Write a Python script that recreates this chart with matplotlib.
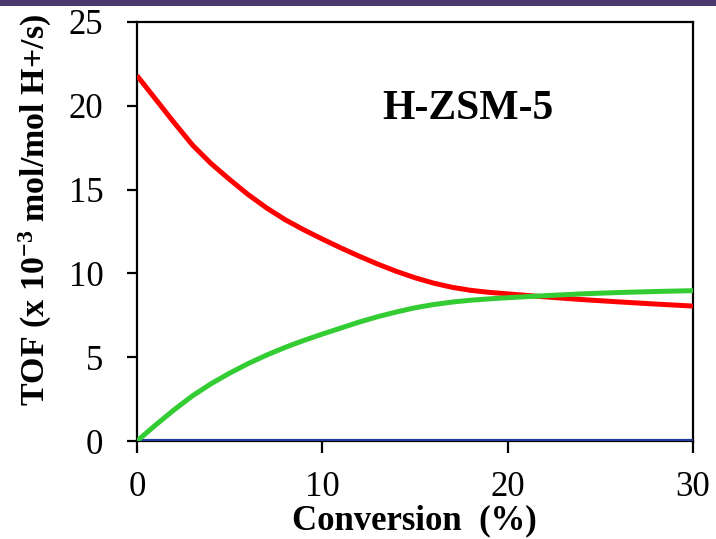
import matplotlib
matplotlib.use("Agg")
import matplotlib.pyplot as plt
from matplotlib.patches import Rectangle

plt.rcParams['font.family'] = ['Liberation Serif', 'DejaVu Serif']
plt.rcParams['mathtext.fontset'] = 'custom'
plt.rcParams['mathtext.rm'] = 'Liberation Serif:bold'
plt.rcParams['mathtext.it'] = 'Liberation Serif:bold'
plt.rcParams['mathtext.bf'] = 'Liberation Serif:bold'

# Conversion (%) and turnover frequencies (x 10^-3 mol/mol H+/s)
conversion = [0, 1, 2, 3, 4, 5, 6, 7, 8, 9, 10, 11, 12, 13, 14, 15, 16, 17, 18,
              19, 20, 22, 24, 26, 28, 30]
tof_red = [21.8, 20.4, 19.0, 17.65, 16.55, 15.6, 14.7, 13.9, 13.2, 12.6, 12.05,
           11.52, 11.02, 10.55, 10.12, 9.74, 9.42, 9.17, 8.99, 8.87, 8.78, 8.6,
           8.44, 8.3, 8.17, 8.05]
tof_green = [0.0, 0.95, 1.86, 2.7, 3.42, 4.05, 4.62, 5.13, 5.59, 6.0, 6.38,
             6.74, 7.1, 7.42, 7.7, 7.95, 8.14, 8.29, 8.4, 8.48, 8.55, 8.67,
             8.78, 8.86, 8.92, 8.97]
tof_blue = [0.0] * len(conversion)

x_ticks = [0, 10, 20, 30]
y_ticks = [0, 5, 10, 15, 20, 25]

fig = plt.figure(figsize=(7.16, 5.39), dpi=100)
fig.patches.append(Rectangle((0, 1 - 6 / 539), 1, 6 / 539, transform=fig.transFigure,
                             facecolor='#4a3a70', edgecolor='none', zorder=0))

ax = fig.add_axes([137 / 716, 1 - 441 / 539, 556 / 716, 419 / 539])
ax.plot(conversion, tof_blue, color='#1f3c9c', lw=3.0, solid_capstyle='butt', zorder=3)
ax.plot(conversion, tof_red, color='#ff0000', lw=3.6, solid_capstyle='butt',
        solid_joinstyle='round', zorder=4)
ax.plot(conversion, tof_green, color='#33cc33', lw=3.6, solid_capstyle='butt',
        solid_joinstyle='round', zorder=5)

ax.set_xlim(0, 30)
ax.set_ylim(0, 25)
ax.set_xticks(x_ticks)
ax.set_yticks(y_ticks)
for s in ax.spines.values():
    s.set_linewidth(1.6)
    s.set_color('black')
ax.tick_params(axis='x', direction='out', length=8.5, width=1.6, pad=13, labelsize=25)
ax.tick_params(axis='y', direction='out', length=7.2, width=1.6, pad=17, labelsize=25)

fig.text(414 / 716, 1 - 529 / 539, 'Conversion  (%)', ha='center', va='baseline',
         fontsize=25, fontweight='bold')
fig.text(35 / 716, 1 - 210 / 539, 'TOF (x 10$^{-3}$ mol/mol H+/s)', ha='center',
         va='center', rotation=90, fontsize=24.5, fontweight='bold')

ax.text(0.595, 0.792, 'H-ZSM-5', transform=ax.transAxes, ha='center', va='center',
        fontsize=30, fontweight='bold')

fig.savefig('out.png', dpi=100)
